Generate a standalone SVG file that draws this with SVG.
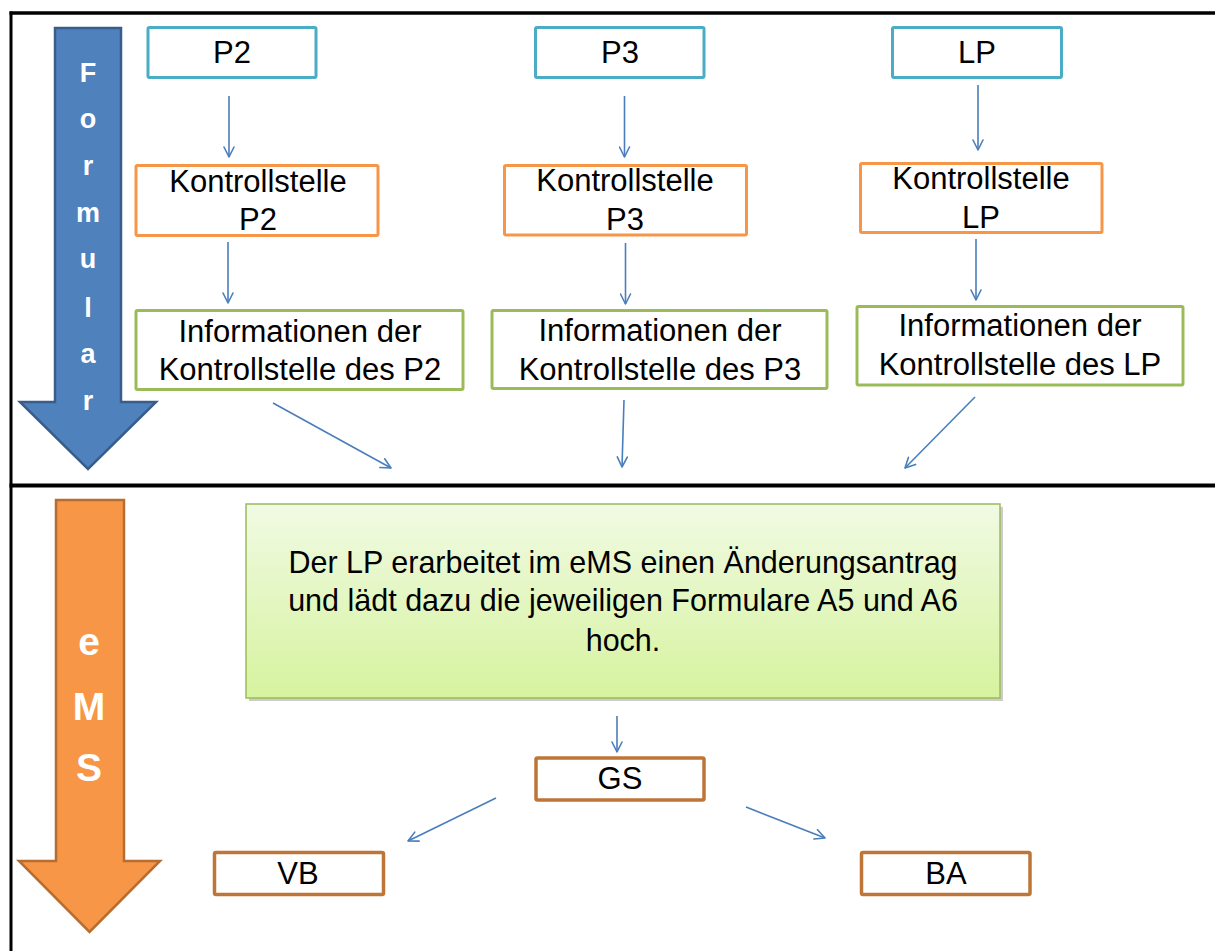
<svg xmlns="http://www.w3.org/2000/svg" width="1215" height="951" viewBox="0 0 1215 951">
  <defs>
    <linearGradient id="gGreen" x1="0" y1="0" x2="0" y2="1">
      <stop offset="0" stop-color="#F1FAE4"/>
      <stop offset="1" stop-color="#D6F39E"/>
    </linearGradient>
    <marker id="arr" viewBox="0 0 12 12" refX="11" refY="6" markerWidth="12" markerHeight="12" markerUnits="userSpaceOnUse" orient="auto">
      <path d="M1,1 L11,6 L1,11" fill="none" stroke="#4A7EBB" stroke-width="1.6" stroke-linecap="round" stroke-linejoin="round"/>
    </marker>
  </defs>
  <style>
    .t { font-family: "Liberation Sans", Arial, sans-serif; font-size: 31px; fill: #000; text-anchor: middle; }
    .tg { font-family: "Liberation Sans", Arial, sans-serif; font-size: 30.5px; fill: #000; text-anchor: middle; }
    .lw { font-family: "Liberation Sans", Arial, sans-serif; font-weight: bold; fill: #fff; text-anchor: middle; }
    .cyan { fill: #fff; stroke: #4BACC6; stroke-width: 3; }
    .orange { fill: #fff; stroke: #F79646; stroke-width: 3; }
    .green { fill: #fff; stroke: #9BBB59; stroke-width: 3; }
    .brown { fill: #fff; stroke: #BE7538; stroke-width: 3.5; }
    .conn line { stroke: #4A7EBB; stroke-width: 1.6; marker-end: url(#arr); }
  </style>

  <rect x="0" y="0" width="1215" height="951" fill="#fff"/>

  <!-- frame -->
  <g id="frame" stroke="#000" fill="none">
    <line x1="11" y1="11.5" x2="11" y2="951" stroke-width="3"/>
    <line x1="9.5" y1="13" x2="1215" y2="13" stroke-width="3.5"/>
    <line x1="9.5" y1="485.5" x2="1215" y2="485.5" stroke-width="4"/>
  </g>

  <!-- Formular arrow -->
  <g id="formular-arrow">
    <polygon points="55,28 121,28 121,402 156,402 88,469 20,402 55,402" fill="#4F81BD" stroke="#385D8A" stroke-width="2.5" stroke-linejoin="miter"/>
    <g class="lw" font-size="27">
      <text x="88" y="82">F</text>
      <text x="88" y="128">o</text>
      <text x="88" y="175">r</text>
      <text x="88" y="222">m</text>
      <text x="88" y="268">u</text>
      <text x="88" y="317">l</text>
      <text x="88" y="363">a</text>
      <text x="88" y="410">r</text>
    </g>
  </g>

  <!-- eMS arrow -->
  <g id="ems-arrow">
    <polygon points="56,500 124,500 124,861 160,861 89.5,932 19,861 56,861" fill="#F79646" stroke="#B66D31" stroke-width="2.5" stroke-linejoin="miter"/>
    <g class="lw" font-size="39">
      <text x="89" y="655">e</text>
      <text x="89" y="720">M</text>
      <text x="89" y="781">S</text>
    </g>
  </g>

  <!-- column P2 -->
  <g id="p2">
    <rect class="cyan" x="148" y="27.5" width="168" height="50" rx="1.5"/>
    <text class="t" x="232" y="63">P2</text>
  </g>
  <g id="kontrollstelle-p2">
    <rect class="orange" x="136" y="165.5" width="242" height="70" rx="1.5"/>
    <text class="t" x="258" y="192">Kontrollstelle</text>
    <text class="t" x="258" y="230">P2</text>
  </g>
  <g id="info-p2">
    <rect class="green" x="136" y="310.5" width="327" height="79" rx="1.5"/>
    <text class="t" x="300" y="342">Informationen der</text>
    <text class="t" x="300" y="380">Kontrollstelle des P2</text>
  </g>

  <!-- column P3 -->
  <g id="p3">
    <rect class="cyan" x="535.5" y="27.5" width="168.5" height="50" rx="1.5"/>
    <text class="t" x="620" y="63">P3</text>
  </g>
  <g id="kontrollstelle-p3">
    <rect class="orange" x="504.5" y="165.5" width="242" height="69.5" rx="1.5"/>
    <text class="t" x="625" y="191">Kontrollstelle</text>
    <text class="t" x="625" y="230">P3</text>
  </g>
  <g id="info-p3">
    <rect class="green" x="492" y="310.5" width="335" height="78" rx="1.5"/>
    <text class="t" x="660" y="341">Informationen der</text>
    <text class="t" x="660" y="380">Kontrollstelle des P3</text>
  </g>

  <!-- column LP -->
  <g id="lp">
    <rect class="cyan" x="892.5" y="27.5" width="169" height="50" rx="1.5"/>
    <text class="t" x="977" y="63">LP</text>
  </g>
  <g id="kontrollstelle-lp">
    <rect class="orange" x="860.5" y="163.5" width="241.5" height="69" rx="1.5"/>
    <text class="t" x="981" y="189">Kontrollstelle</text>
    <text class="t" x="981" y="228">LP</text>
  </g>
  <g id="info-lp">
    <rect class="green" x="857" y="306.5" width="326" height="78.5" rx="1.5"/>
    <text class="t" x="1020" y="336">Informationen der</text>
    <text class="t" x="1020" y="375">Kontrollstelle des LP</text>
  </g>

  <!-- eMS main box -->
  <g id="ems-box">
    <rect x="249" y="507" width="754" height="194" fill="#9a9a9a" opacity="0.5"/>
    <rect x="246" y="504" width="754" height="194" fill="url(#gGreen)" stroke="#9BBB59" stroke-width="1.5"/>
    <text class="tg" x="623" y="573">Der LP erarbeitet im eMS einen Änderungsantrag</text>
    <text class="tg" x="623" y="611">und lädt dazu die jeweiligen Formulare A5 und A6</text>
    <text class="tg" x="623" y="651">hoch.</text>
  </g>

  <g id="gs">
    <rect class="brown" x="536" y="758" width="168" height="42" rx="1.5"/>
    <text class="t" x="620" y="789">GS</text>
  </g>
  <g id="vb">
    <rect class="brown" x="214.5" y="852.5" width="169" height="42" rx="1.5"/>
    <text class="t" x="298" y="884">VB</text>
  </g>
  <g id="ba">
    <rect class="brown" x="861.5" y="852.5" width="168.5" height="42" rx="1.5"/>
    <text class="t" x="946" y="884">BA</text>
  </g>

  <!-- connectors -->
  <g id="connectors" class="conn">
    <line x1="229" y1="96" x2="229" y2="157"/>
    <line x1="228" y1="242" x2="228" y2="303"/>
    <line x1="624.5" y1="96" x2="624.5" y2="157"/>
    <line x1="625.5" y1="243" x2="625.5" y2="304"/>
    <line x1="978" y1="85" x2="978" y2="150"/>
    <line x1="976" y1="239" x2="976" y2="300"/>
    <line x1="273" y1="403" x2="391" y2="468"/>
    <line x1="624" y1="400" x2="622" y2="467"/>
    <line x1="975" y1="397" x2="905" y2="468"/>
    <line x1="617" y1="716" x2="617" y2="752"/>
    <line x1="496" y1="798" x2="408" y2="841"/>
    <line x1="746" y1="807" x2="825" y2="838"/>
  </g>
</svg>
